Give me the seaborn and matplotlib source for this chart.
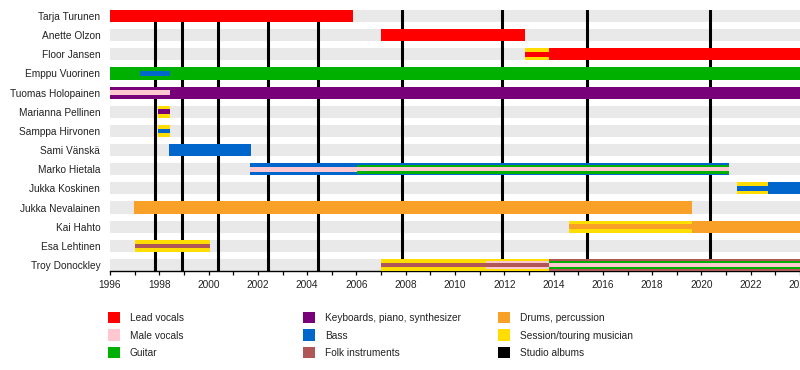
import matplotlib
matplotlib.use("Agg")
import matplotlib.pyplot as plt
import seaborn as sns
from matplotlib.patches import Patch

# ---------------- data ----------------
members = ["Tarja Turunen", "Anette Olzon", "Floor Jansen", "Emppu Vuorinen",
           "Tuomas Holopainen", "Marianna Pellinen", "Samppa Hirvonen",
           "Sami Vänskä", "Marko Hietala", "Jukka Koskinen", "Jukka Nevalainen",
           "Kai Hahto", "Esa Lehtinen", "Troy Donockley"]

role_keys = ["lead", "male", "guitar", "keys", "bass", "folk", "drums", "session", "albums"]
role_labels = ["Lead vocals", "Male vocals", "Guitar",
               "Keyboards, piano, synthesizer", "Bass", "Folk instruments",
               "Drums, percussion", "Session/touring musician", "Studio albums"]
role_colors = ["#ff0000", "#ffc8d0", "#00b000", "#780078", "#0066cc",
               "#b05656", "#f8a027", "#ffdd00", "#000000"]

# segments: member, start, end, roles (outer -> inner)
seg_member = ["Tarja Turunen", "Anette Olzon",
              "Floor Jansen", "Floor Jansen",
              "Emppu Vuorinen", "Emppu Vuorinen",
              "Tuomas Holopainen", "Tuomas Holopainen",
              "Marianna Pellinen", "Samppa Hirvonen", "Sami Vänskä",
              "Marko Hietala", "Marko Hietala",
              "Jukka Koskinen", "Jukka Koskinen",
              "Jukka Nevalainen",
              "Kai Hahto", "Kai Hahto",
              "Esa Lehtinen",
              "Troy Donockley", "Troy Donockley", "Troy Donockley"]
seg_start = [1996.0, 2007.0,
             2012.84, 2013.82,
             1996.0, 1997.22,
             1996.0, 1996.0,
             1997.95, 1997.95, 1998.39,
             2001.68, 2006.02,
             2021.45, 2022.70,
             1996.97,
             2014.63, 2019.62,
             1997.01,
             2007.0, 2011.26, 2013.82]
seg_end = [2005.86, 2012.84,
           2013.82, 2024.0,
           2024.0, 1998.44,
           2024.0, 1998.44,
           1998.44, 1998.44, 2001.72,
           2006.02, 2021.12,
           2022.70, 2024.0,
           2019.62,
           2019.62, 2024.0,
           2000.06,
           2011.26, 2013.82, 2024.0]
seg_roles = [["lead"], ["lead"],
             ["session", "lead"], ["lead"],
             ["guitar"], ["guitar", "bass"],
             ["keys"], ["keys", "male"],
             ["session", "keys"], ["session", "bass"], ["bass"],
             ["bass", "male"], ["bass", "guitar", "male"],
             ["session", "bass"], ["bass"],
             ["drums"],
             ["session", "drums"], ["drums"],
             ["session", "folk"],
             ["session", "folk"], ["session", "male", "folk"], ["folk", "guitar", "male"]]

album_years = [1997.83, 1998.92, 2000.38, 2002.41, 2004.44,
               2007.85, 2011.91, 2015.36, 2020.35]

year_min, year_max = 1996, 2024

# ---------------- style ----------------
sns.set_theme(style="white")
plt.rcParams["font.family"] = ["Liberation Sans", "DejaVu Sans"]
color_of = dict(zip(role_keys, role_colors))

W, H = 800, 370
fig = plt.figure(figsize=(W / 100, H / 100), dpi=100)
ax = fig.add_axes([110 / W, 1 - 271 / H, 690 / W, 261 / H])

bar_h = 0.63
layer_frac = {1: [1.0], 2: [1.0, 0.38], 3: [1.0, 0.74, 0.36]}
ypos = {m: i for i, m in enumerate(members)}

# background bands
ax.barh(range(len(members)), year_max - year_min, left=year_min, height=bar_h,
        color="#e9e9e9", linewidth=0, zorder=1)

# album lines
for yr in album_years:
    ax.axvline(yr, color="black", lw=2.2, zorder=2)

# member bars
for m, s, e, roles in zip(seg_member, seg_start, seg_end, seg_roles):
    fr = layer_frac[len(roles)]
    for k, r in enumerate(roles):
        ax.barh(ypos[m], e - s, left=s, height=bar_h * fr[k],
                color=color_of[r], linewidth=0, zorder=3 + k)

ax.set_xlim(year_min, year_max)
ax.set_ylim(len(members) - 1 + bar_h / 2, -bar_h / 2)

ax.set_yticks(range(len(members)))
ax.set_yticklabels(members, fontsize=7.3, color="#222222")
ax.set_xticks(range(year_min, year_max + 1, 2))
ax.set_xticks(range(year_min, year_max + 1), minor=True)
ax.set_xticklabels([str(y) for y in range(year_min, year_max + 1, 2)],
                   fontsize=7.3, color="#222222")
ax.tick_params(axis="y", length=0, pad=7)
ax.tick_params(axis="x", which="both", length=3, width=0.9, color="black",
               direction="out", pad=3.5, bottom=True)
for side in ["top", "right", "left"]:
    ax.spines[side].set_visible(False)
ax.spines["bottom"].set_color("black")
ax.spines["bottom"].set_linewidth(1.0)
ax.grid(False)

# legend in three columns
handles = [Patch(facecolor=c, edgecolor="none") for c in role_colors]
col_x = [108, 303, 498]
for ci in range(3):
    idx = range(ci * 3, ci * 3 + 3)
    fig.legend([handles[i] for i in idx], [role_labels[i] for i in idx],
               loc="upper left", bbox_to_anchor=(col_x[ci] / W, 1 - 312 / H),
               frameon=False, fontsize=7.3, handlelength=1.2, handleheight=1.35,
               handletextpad=0.95, labelspacing=0.6, borderpad=0,
               borderaxespad=0, labelcolor="#222222")

fig.savefig("out.png", dpi=100)
